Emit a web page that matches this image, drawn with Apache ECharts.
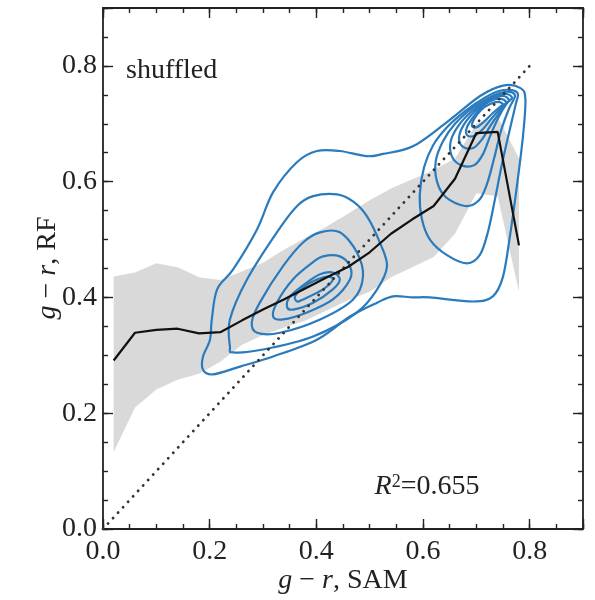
<!DOCTYPE html>
<html><head><meta charset="utf-8">
<script src="https://cdn.jsdelivr.net/npm/echarts@6/dist/echarts.min.js"></script>
<style>html,body{margin:0;padding:0;background:#fff}#c{width:595px;height:600px}</style>
</head><body><div id="c"></div>
<script>
// ---- data ----
const xBins = [0.02,0.06,0.10,0.14,0.18,0.22,0.26,0.30,0.34,0.38,0.42,0.46,0.50,0.54,0.58,0.62,0.66,0.70,0.74,0.78];
const medianY = [0.291,0.339,0.344,0.346,0.338,0.340,0.360,0.379,0.397,0.416,0.435,0.453,0.478,0.510,0.535,0.558,0.605,0.684,0.686,0.490];
const bandUpper = [0.436,0.443,0.459,0.452,0.435,0.430,0.445,0.460,0.483,0.503,0.523,0.545,0.568,0.588,0.604,0.620,0.640,0.700,0.712,0.640];
const bandLower = [0.133,0.210,0.241,0.258,0.268,0.289,0.318,0.335,0.348,0.360,0.378,0.395,0.410,0.435,0.452,0.470,0.510,0.580,0.575,0.410];
const oneToOne = [[0,0],[0.8,0.8]];
const xTickLabels = [0.0,0.2,0.4,0.6,0.8];
const yTickLabels = [0.0,0.2,0.4,0.6,0.8];

// density contours (closed curves), outermost first
const contour1 = [[0.1875,0.275],[0.1875,0.298],[0.2006,0.327],[0.204,0.362],[0.214,0.414],[0.244,0.4485],[0.289,0.518],[0.319,0.582],[0.364,0.634],[0.401,0.653],[0.444,0.653],[0.495,0.644],[0.525,0.648],[0.581,0.661],[0.645,0.703],[0.707,0.748],[0.75,0.766],[0.782,0.762],[0.792,0.743],[0.7875,0.679],[0.776,0.592],[0.763,0.506],[0.75,0.436],[0.731,0.402],[0.694,0.393],[0.613,0.400],[0.581,0.400],[0.544,0.402],[0.514,0.391],[0.463,0.367],[0.401,0.327],[0.319,0.298],[0.257,0.2805],[0.206,0.267]];
const contour2a = [[0.238,0.315],[0.238,0.362],[0.27,0.431],[0.326,0.5125],[0.364,0.558],[0.394,0.575],[0.439,0.578],[0.470,0.565],[0.495,0.540],[0.519,0.495],[0.5325,0.454],[0.514,0.414],[0.476,0.374],[0.394,0.3325],[0.300,0.310],[0.244,0.305]];
const contour3a = [[0.407,0.5125],[0.444,0.5125],[0.476,0.478],[0.4875,0.436],[0.469,0.3965],[0.407,0.362],[0.332,0.339],[0.289,0.339],[0.279,0.357],[0.294,0.391],[0.3375,0.454],[0.375,0.495]];
const contour4a = [[0.4125,0.471],[0.444,0.471],[0.463,0.454],[0.463,0.431],[0.431,0.3965],[0.3825,0.374],[0.3375,0.362],[0.319,0.367],[0.326,0.391],[0.356,0.431],[0.394,0.461]];
const contour5a = [[0.407,0.44],[0.431,0.443],[0.444,0.431],[0.431,0.414],[0.394,0.391],[0.356,0.379],[0.345,0.384],[0.351,0.402],[0.3825,0.426]];
const contour6a = [[0.42,0.436],[0.431,0.431],[0.4125,0.414],[0.375,0.3965],[0.364,0.393],[0.36,0.402],[0.375,0.417],[0.394,0.428]];
const contour2b = [[0.778,0.7515],[0.767,0.758],[0.744,0.757],[0.716,0.745],[0.679,0.722],[0.645,0.694],[0.619,0.663],[0.602,0.625],[0.594,0.578],[0.598,0.535],[0.613,0.500],[0.645,0.473],[0.6825,0.459],[0.707,0.474],[0.722,0.514],[0.735,0.570],[0.748,0.630],[0.763,0.691],[0.774,0.734]];
const contour3b = [[0.7725,0.748],[0.763,0.755],[0.744,0.753],[0.72,0.743],[0.688,0.724],[0.66,0.70],[0.6375,0.67],[0.624,0.636],[0.626,0.601],[0.643,0.573],[0.679,0.558],[0.705,0.568],[0.72,0.596],[0.733,0.639],[0.746,0.687],[0.761,0.7255]];
const contour4b = [[0.767,0.7446],[0.7575,0.7515],[0.741,0.75],[0.718,0.739],[0.692,0.722],[0.6675,0.698],[0.652,0.67],[0.654,0.644],[0.671,0.6286],[0.696,0.6286],[0.7125,0.6476],[0.726,0.679],[0.741,0.71],[0.756,0.734]];
const contour5b = [[0.761,0.741],[0.752,0.748],[0.737,0.746],[0.716,0.736],[0.694,0.7186],[0.675,0.696],[0.6675,0.675],[0.675,0.66],[0.694,0.658],[0.711,0.6736],[0.726,0.696],[0.7425,0.7186],[0.754,0.7325]];
const contour6b = [[0.7557,0.7377],[0.746,0.743],[0.731,0.741],[0.7125,0.731],[0.6957,0.7134],[0.6825,0.694],[0.6825,0.6805],[0.6957,0.679],[0.7125,0.691],[0.7275,0.708],[0.7425,0.724],[0.752,0.7325]];
const contour7b = [[0.75,0.734],[0.741,0.7377],[0.7257,0.734],[0.709,0.724],[0.6957,0.708],[0.692,0.696],[0.701,0.694],[0.716,0.705],[0.731,0.7186],[0.744,0.729]];
const contours = [contour1,contour2a,contour3a,contour4a,contour5a,contour6a,contour2b,contour3b,contour4b,contour5b,contour6b,contour7b];

// ---- style ----
const FONT = '"Liberation Serif", "Times New Roman", serif';
const AX = '#222';
const BLUE = '#2a7bbd';
const TXT = '#222';
const RICH = {
  a:{fontFamily:FONT, fontSize:28, color:TXT},
  i:{fontFamily:FONT, fontSize:28, fontStyle:'italic', color:TXT},
  s:{fontFamily:FONT, fontSize:18, color:TXT, verticalAlign:'top'}
};

function isMajor(v){ return xTickLabels.some(t => Math.abs(t - v) < 1e-6); }

function axisPair(dim, pos){
  const base = {type:'value', min:0, max:0.9, position:pos, splitLine:{show:false}, gridIndex:0};
  const minor = Object.assign({}, base, {
    interval:0.05,
    axisLine:{show:true, onZero:false, lineStyle:{color:AX, width:1.8}},
    axisTick:{show:true, inside:true, length:5, lineStyle:{color:AX, width:1.4}},
    axisLabel:{show:(pos==='bottom'||pos==='left'), margin:(dim==='x'?9:6), color:TXT, fontFamily:FONT, fontSize:28,
      formatter:v => isMajor(v) ? v.toFixed(1) : ''},
  });
  const major = Object.assign({}, base, {
    interval:0.2,
    axisLine:{show:false, onZero:false},
    axisTick:{show:true, inside:true, length:10, lineStyle:{color:AX, width:1.4}},
    axisLabel:{show:false}
  });
  return [minor, major];
}

// closed smooth curve through projected points (Catmull-Rom as cubic Bezier)
function closedCurvePath(pts){
  const n = pts.length;
  let d = 'M' + pts[0][0] + ',' + pts[0][1];
  for (let i = 0; i < n; i++){
    const p0 = pts[(i - 1 + n) % n], p1 = pts[i], p2 = pts[(i + 1) % n], p3 = pts[(i + 2) % n];
    const c1 = [p1[0] + (p2[0] - p0[0]) / 6, p1[1] + (p2[1] - p0[1]) / 6];
    const c2 = [p2[0] - (p3[0] - p1[0]) / 6, p2[1] - (p3[1] - p1[1]) / 6];
    d += 'C' + c1[0] + ',' + c1[1] + ' ' + c2[0] + ',' + c2[1] + ' ' + p2[0] + ',' + p2[1];
  }
  return d + 'Z';
}

const series = [];
series.push({
  type:'custom', xAxisIndex:0, yAxisIndex:0, z:1, silent:true,
  data:[[xBins[0], bandLower[0]]],
  renderItem:function(params, api){
    const pts = [];
    for (let i=0;i<xBins.length;i++) pts.push(api.coord([xBins[i], bandUpper[i]]));
    for (let i=xBins.length-1;i>=0;i--) pts.push(api.coord([xBins[i], bandLower[i]]));
    return {type:'polygon', shape:{points:pts}, style:{fill:'#d9d9d9', stroke:null}};
  }
});
series.push({
  type:'custom', xAxisIndex:0, yAxisIndex:0, z:3, silent:true,
  data:contours.map(c => c[0]),
  renderItem:function(params, api){
    const pts = contours[params.dataIndex].map(p => api.coord(p));
    return {type:'path', shape:{pathData:closedCurvePath(pts)},
      style:{fill:null, stroke:BLUE, lineWidth:2.2}};
  }
});
series.push({
  type:'line', data:oneToOne, showSymbol:false, z:4, silent:true,
  lineStyle:{color:'#333', width:2.8, type:[0.1,7.3], cap:'round'}
});
series.push({
  type:'line', data:xBins.map((x,i)=>[x, medianY[i]]), showSymbol:false, z:5, silent:true,
  lineStyle:{color:'#111', width:2.2}
});

const txtStyle = (text, extra) => Object.assign({text:text, fill:TXT, fontFamily:FONT, fontSize:28, rich:RICH}, extra);

const chart = echarts.init(document.getElementById('c'), null, {renderer:'canvas'});
chart.setOption({
  animation:false,
  backgroundColor:'#fff',
  grid:{left:103, right:12, top:8, bottom:71, containLabel:false},
  xAxis:[...axisPair('x','bottom'), ...axisPair('x','top')],
  yAxis:[...axisPair('y','left'), ...axisPair('y','right')],
  series:series,
  graphic:[
    {type:'text', x:343, y:581, style:txtStyle('{i|g}{a| − }{i|r}{a|, SAM}', {align:'center', verticalAlign:'middle'})},
    {type:'text', x:48, y:268, rotation:Math.PI/2, style:txtStyle('{i|g}{a| − }{i|r}{a|, RF}', {align:'center', verticalAlign:'middle'})},
    {type:'text', x:126, y:71, style:txtStyle('shuffled', {align:'left', verticalAlign:'middle'})},
    {type:'text', x:427, y:487, style:txtStyle('{i|R}{s|2}{a|=0.655}', {align:'center', verticalAlign:'middle'})}
  ]
});
</script>
</body></html>
